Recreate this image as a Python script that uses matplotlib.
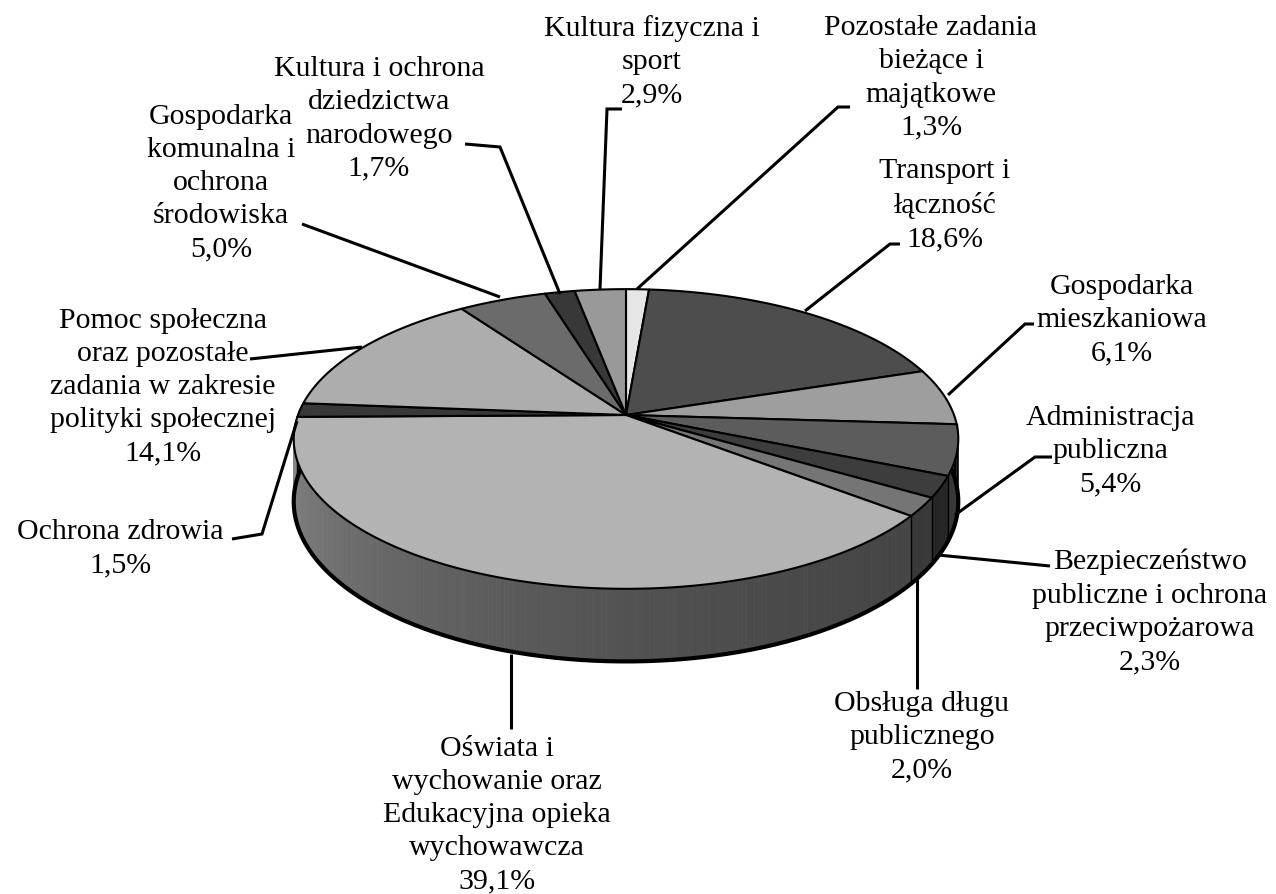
import numpy as np
import matplotlib
matplotlib.use("Agg")
import matplotlib.pyplot as plt
from matplotlib.patches import Polygon

plt.rcParams['font.family'] = ['Liberation Serif', 'DejaVu Serif']

labels = ["Pozostałe zadania\nbieżące i\nmajątkowe", "Transport i\nłączność", "Gospodarka\nmieszkaniowa",
          "Administracja\npubliczna", "Bezpieczeństwo\npubliczne i ochrona\nprzeciwpożarowa",
          "Obsługa długu\npublicznego", "Oświata i\nwychowanie oraz\nEdukacyjna opieka\nwychowawcza",
          "Ochrona zdrowia", "Pomoc społeczna\noraz pozostałe\nzadania w zakresie\npolityki społecznej",
          "Gospodarka\nkomunalna i\nochrona\nśrodowiska", "Kultura i ochrona\ndziedzictwa\nnarodowego",
          "Kultura fizyczna i\nsport"]
values = [1.3, 18.6, 6.1, 5.4, 2.3, 2.0, 39.1, 1.5, 14.1, 5.0, 1.7, 2.9]
value_text = ["1,3%", "18,6%", "6,1%", "5,4%", "2,3%", "2,0%", "39,1%", "1,5%", "14,1%", "5,0%", "1,7%", "2,9%"]
top_grays = [0.90, 0.30, 0.62, 0.36, 0.24, 0.46, 0.70, 0.22, 0.68, 0.42, 0.22, 0.60]
side_grays = [0.7, 0.22, 0.4, 0.22, 0.14, 0.22, 0.36, 0.14, 0.45, 0.28, 0.14, 0.4]
label_pos = [(931, 78), (945, 205), (1122, 320), (1110, 451), (1150, 612), (922, 737), (497, 815),
             (120, 549), (163, 387), (221, 183), (379, 119), (652, 62)]
leaders = [[(637, 290), (838, 108), (850, 108)], [(805, 312), (890, 245), (900, 245)],
           [(948, 396), (1025, 325), (1034, 325)], [(955, 516), (1035, 458), (1052, 458)],
           [(938, 556), (1050, 567)], [(917, 580), (917, 690)], [(511, 655), (511, 730)],
           [(297, 422), (262, 535), (232, 540)], [(362, 348), (250, 360)],
           [(500, 298), (302, 225)], [(560, 295), (500, 148), (465, 145)],
           [(600, 290), (607, 110), (622, 110)]]

CX, CY, A, B, K, DEPTH = 626, 416, 328, 146, 0.16, 61


def project(phi, drop=0.0):
    u, v = np.sin(phi), -np.cos(phi)
    w = 1 - K * v
    return CX + A * u / w, CY + (B * v + drop) / w


fig = plt.figure(figsize=(12.76, 8.95), dpi=100)
ax = fig.add_axes([0, 0, 1, 1])
ax.set_xlim(0, 1276)
ax.set_ylim(895, 0)
ax.axis('off')

edges = np.radians(np.concatenate([[0], np.cumsum(values)]) / sum(values) * 360)
vis0, vis1 = np.radians(82), np.radians(278)

# side wall, painted in narrow strips so the shade can change along the rim
for i, val in enumerate(values):
    a0, a1 = max(edges[i], vis0), min(edges[i + 1], vis1)
    if a1 <= a0:
        continue
    steps = np.linspace(a0, a1, max(2, int((a1 - a0) * 90)))
    for p0, p1 in zip(steps[:-1], steps[1:]):
        shade = side_grays[i]
        if labels[i].startswith("Oświata"):
            t = (p0 - a0) / (a1 - a0)
            shade = 0.27 + 0.27 * t ** 1.6
        xs0, ys0 = project(p0)
        xs1, ys1 = project(p1)
        xb0, yb0 = project(p0, DEPTH)
        xb1, yb1 = project(p1, DEPTH)
        ax.add_patch(Polygon([(xs0, ys0), (xs1, ys1), (xb1, yb1), (xb0, yb0)],
                             closed=True, fc=str(shade), ec=str(shade), lw=0.6, zorder=1))

# rim lines
phis = np.linspace(vis0, vis1, 400)
bx, by = project(phis, DEPTH)
ax.plot(bx, by, color='black', lw=3, zorder=2, solid_capstyle='round')
for p in [np.radians(91), np.radians(272)]:
    x0, y0 = project(p)
    x1, y1 = project(p, DEPTH)
    ax.plot([x0, x1], [y0, y1], color='black', lw=1.5, zorder=2)
for i in range(3, 8):
    if vis0 < edges[i] < vis1:
        x0, y0 = project(edges[i])
        x1, y1 = project(edges[i], DEPTH)
        ax.plot([x0, x1], [y0, y1], color='black', lw=1.0, zorder=2)

# top face
for i, val in enumerate(values):
    ph = np.linspace(edges[i], edges[i + 1], max(3, int(val * 8)))
    x, y = project(ph)
    verts = [(CX, CY)] + list(zip(x, y))
    ax.add_patch(Polygon(verts, closed=True, fc=str(top_grays[i]), ec='black', lw=1.5,
                         joinstyle='round', zorder=3))

# leader lines and labels
for pts in leaders:
    xs, ys = zip(*pts)
    ax.plot(xs, ys, color='black', lw=2.2, zorder=4, solid_capstyle='butt', solid_joinstyle='miter')

for name, pct, (x, y) in zip(labels, value_text, label_pos):
    ax.text(x, y, f"{name}\n{pct}", ha='center', va='center', ma='center',
            fontsize=21.5, linespacing=1.36, color='black', zorder=5)

fig.savefig("out.png", dpi=100, facecolor='white')
